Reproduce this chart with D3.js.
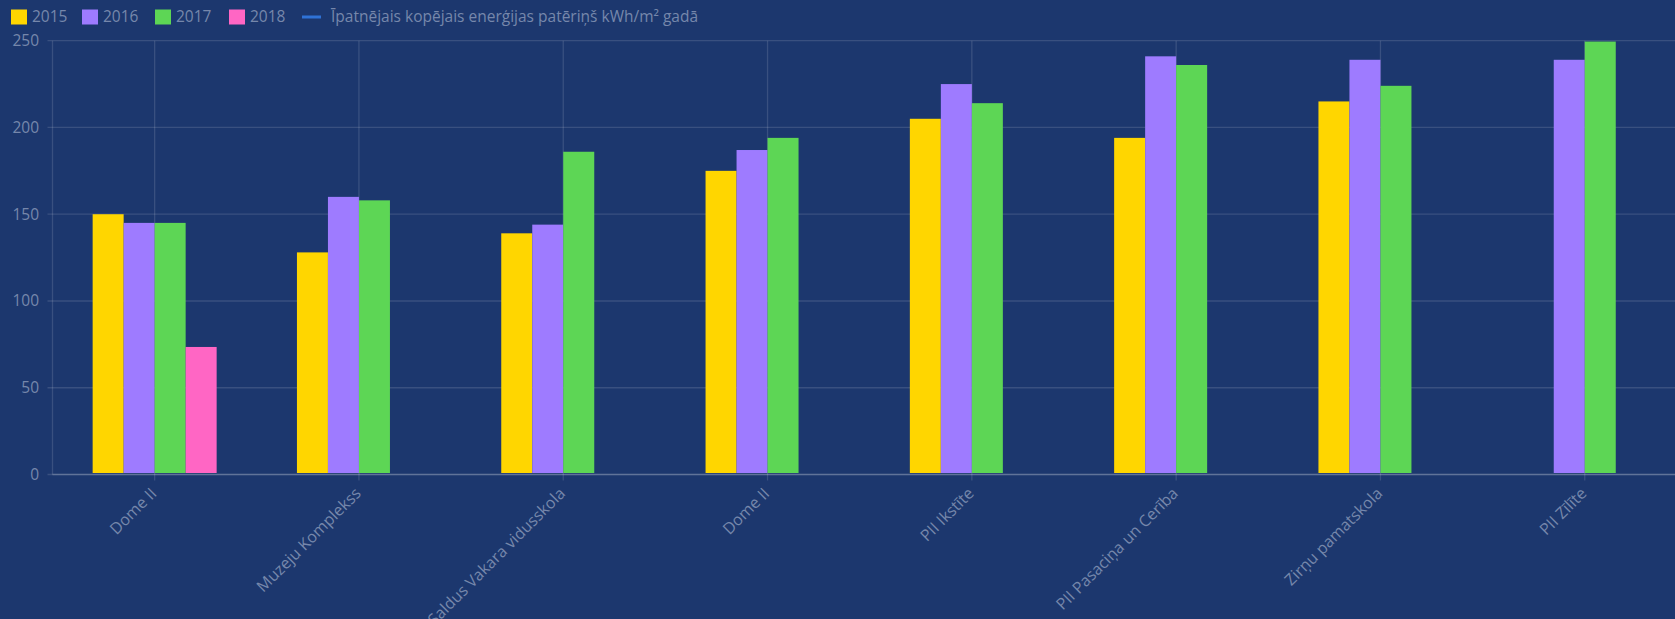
<!DOCTYPE html>
<html><head><meta charset="utf-8">
<script src="https://cdn.jsdelivr.net/npm/d3@7"></script>
<style>
html,body{margin:0;padding:0;background:#1c376e;}
svg{display:block;font-family:"Open Sans",sans-serif;}
</style></head>
<body>
<svg id="c" width="1675" height="619"></svg>
<script>
const categories = ["Dome II","Muzeju Komplekss","Saldus Vakara vidusskola","Dome II","PII Ikstīte","PII Pasaciņa un Cerība","Zirņu pamatskola","PII Zīlīte"];
const seriesNames = ["2015","2016","2017","2018"];
const v2015 = [150,128,139,175,205,194,215,null];
const v2016 = [145,160,144,187,225,241,239,239];
const v2017 = [145,158,186,194,214,236,224,249.5];
const v2018 = [73.5,null,null,null,null,null,null,null];
const yTicks = [0,50,100,150,200,250];
const lineLegend = "Īpatnējais kopējais enerģijas patēriņš kWh/m² gadā";
const colors = ["#ffd600","#9e7bff","#5dd655","#ff66c4"];
const lineColor = "#2f72d6";

(function(){
const seriesValues = [v2015,v2016,v2017,v2018];
const svg = d3.select("#c");
const textColor = "#7687ab";
const gridColor = "rgba(255,255,255,0.13)";

const pLeft = 52.5, bandW = 204.3, pTop = 40.7, pBottom = 474.5;
const x = d3.scaleBand().domain(d3.range(categories.length)).range([pLeft, pLeft + bandW*categories.length]).padding(0);
const y = d3.scaleLinear().domain([0,250]).range([pBottom, pTop]);
const xs = d3.scaleBand().domain(seriesNames).range([0,124]).padding(0);

svg.append("g").selectAll("line").data(yTicks).join("line")
  .attr("x1", pLeft-5).attr("x2", 1675).attr("y1", d=>y(d)).attr("y2", d=>y(d))
  .attr("stroke", gridColor).attr("stroke-width", 1.3);
svg.append("g").selectAll("line").data(d3.range(categories.length)).join("line")
  .attr("x1", d=>x(d)+bandW/2).attr("x2", d=>x(d)+bandW/2).attr("y1", pTop).attr("y2", pBottom+6)
  .attr("stroke", gridColor).attr("stroke-width", 1.3);
svg.append("line").attr("x1", pLeft).attr("x2", pLeft).attr("y1", pTop).attr("y2", pBottom)
  .attr("stroke", gridColor).attr("stroke-width", 1.3);
svg.append("g").selectAll("text").data(yTicks).join("text")
  .attr("x", 39).attr("y", d=>y(d)).attr("dy","0.35em").attr("text-anchor","end")
  .attr("fill", textColor).attr("font-size", 15.5).text(d=>d);

seriesNames.forEach((s, si) => {
  svg.append("g").selectAll("rect")
    .data(seriesValues[si].map((v,i)=>({v,i})).filter(d=>d.v!=null))
    .join("rect")
    .attr("x", d=>x(d.i)+bandW/2-62+xs(s))
    .attr("width", xs.bandwidth())
    .attr("y", d=>y(d.v))
    .attr("height", d=>y(0)-1.5-y(d.v))
    .attr("fill", colors[si]);
});
svg.append("line").attr("x1", pLeft).attr("x2", 1675).attr("y1", pBottom).attr("y2", pBottom)
  .attr("stroke", "rgba(255,255,255,0.2)").attr("stroke-width", 1.5);

svg.append("g").selectAll("text").data(categories).join("text")
  .attr("transform", (d,i)=>`translate(${x(i)+bandW/2-1},${pBottom+16}) rotate(-45)`)
  .attr("text-anchor","end").attr("dy","0.35em")
  .attr("fill", textColor).attr("font-size", 16).text(d=>d);

const leg = svg.append("g");
const legX = [11, 82, 155, 229];
seriesNames.forEach((s,i)=>{
  leg.append("rect").attr("x", legX[i]).attr("y", 9.5).attr("width", 16).attr("height", 15)
    .attr("fill", colors[i]);
  leg.append("text").attr("x", legX[i]+21).attr("y", 17).attr("dy","0.35em")
    .attr("fill", textColor).attr("font-size", 15.5).text(s);
});
leg.append("line").attr("x1", 302).attr("x2", 321).attr("y1", 17).attr("y2", 17)
  .attr("stroke", lineColor).attr("stroke-width", 3);
leg.append("text").attr("x", 331).attr("y", 17).attr("dy","0.35em")
  .attr("fill", textColor).attr("font-size", 15.5).text(lineLegend);
})();
</script>
</body></html>
